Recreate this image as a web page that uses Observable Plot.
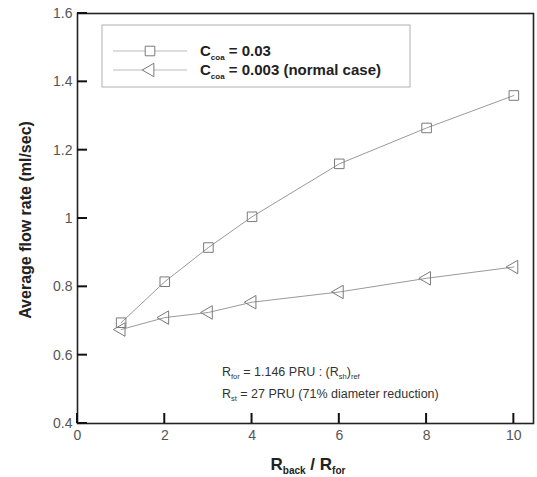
<!DOCTYPE html>
<html><head><meta charset="utf-8">
<script src="https://cdn.jsdelivr.net/npm/d3@7"></script>
<script src="https://cdn.jsdelivr.net/npm/@observablehq/plot@0.6"></script>
<style>body{margin:0;background:#fff}</style>
</head><body><div id="chart"></div>
<script>
// ---- data ----
const ratios = [1, 2, 3, 4, 6, 8, 10];                       // R_back / R_for
const flowCoa003 = [0.695, 0.815, 0.915, 1.005, 1.16, 1.265, 1.36];   // C_coa = 0.03
const flowCoa0003 = [0.675, 0.71, 0.725, 0.755, 0.785, 0.825, 0.858]; // C_coa = 0.003
const seriesValue = ["0.03", "0.003 (normal case)"];
const xTicks = [0, 2, 4, 6, 8, 10];
const yTicks = [0.4, 0.6, 0.8, 1.0, 1.2, 1.4, 1.6];
const yTitle = "Average flow rate (ml/sec)";
const note1 = [["R"], ["for", 1], [" = 1.146 PRU : (R"], ["sh", 1], [")"], ["ref", 1]];
const note2 = [["R"], ["st", 1], [" = 27 PRU (71% diameter reduction)"]];

const rowsA = ratios.map((x, i) => ({x, y: flowCoa003[i]}));
const rowsB = ratios.map((x, i) => ({x, y: flowCoa0003[i]}));

const W = 537, H = 477, mL = 77, mR = 4, mT = 13, mB = 54;
const tickLen = 10;
const fmt = d => String(+(+d).toFixed(1));
const plot = Plot.plot({
  width: W, height: H,
  marginLeft: mL, marginRight: mR, marginTop: mT, marginBottom: mB,
  style: {fontFamily: "'Liberation Sans', Arial, sans-serif", fontSize: "14px", background: "#fff", color: "#222"},
  x: {domain: [0, 10.45]},
  y: {domain: [0.4, 1.6]},
  marks: [
    Plot.axisY({ticks: yTicks, tickSize: 0, tickPadding: 5, tickFormat: fmt, label: null, fill: "#555"}),
    Plot.axisX({ticks: xTicks, tickSize: 0, tickPadding: 7, tickFormat: fmt, label: null, fill: "#555"}),
    Plot.line(rowsA, {x: "x", y: "y", stroke: "#9a9a9a", strokeWidth: 1}),
    Plot.line(rowsB, {x: "x", y: "y", stroke: "#9a9a9a", strokeWidth: 1}),
    Plot.dot(rowsA, {x: "x", y: "y", symbol: "square", r: 5.4, stroke: "#7a7a7a", fill: "none", strokeWidth: 1}),
    Plot.dot(rowsB, {x: "x", y: "y", symbol: "triangle", rotate: -90, r: 5, stroke: "#7a7a7a", fill: "none", strokeWidth: 1}),
    Plot.frame({stroke: "#222", strokeWidth: 1.6})
  ]
});
document.getElementById("chart").appendChild(plot);

const svg = d3.select(plot);
const FF = "'Liberation Sans', Arial, sans-serif";
const sx = plot.scale("x"), sy = plot.scale("y");
const fx = d3.scaleLinear(sx.domain, sx.range);
const fy = d3.scaleLinear(sy.domain, sy.range);

// inward ticks, positioned through Plot's own scale definitions
yTicks.forEach(v => {
  svg.append("path").attr("d", `M${mL},${fy(v)}h${tickLen}`)
    .attr("stroke", "#111").attr("stroke-width", 2);
});
xTicks.forEach(v => {
  svg.append("path").attr("d", `M${fx(v)},${H - mB}v${-tickLen}`)
    .attr("stroke", "#111").attr("stroke-width", 2);
});

// axis titles
svg.append("text")
  .attr("transform", "translate(31,220) rotate(-90)")
  .attr("text-anchor", "middle").attr("font-family", FF)
  .attr("font-weight", "bold").attr("font-size", 16).attr("fill", "#222")
  .text(yTitle);

const xt = svg.append("text").attr("x", 308).attr("y", 470)
  .attr("text-anchor", "middle").attr("font-family", FF)
  .attr("font-weight", "bold").attr("font-size", 17).attr("fill", "#222");
xt.append("tspan").text("R");
xt.append("tspan").text("back").attr("font-size", 10).attr("dy", 4);
xt.append("tspan").text(" / R").attr("dy", -4);
xt.append("tspan").text("for").attr("font-size", 10).attr("dy", 4);

// legend
const lg = svg.append("g").attr("text-anchor", "start");
lg.append("rect").attr("x", 102).attr("y", 25).attr("width", 308).attr("height", 62)
  .attr("fill", "#fff").attr("stroke", "#b0b0b0").attr("stroke-width", 1);
const rowY = [51, 70];
rowY.forEach((yy, i) => {
  lg.append("line").attr("x1", 113).attr("x2", 187).attr("y1", yy).attr("y2", yy)
    .attr("stroke", "#bbb").attr("stroke-width", 1);
  const sym = i === 0 ? d3.symbolSquare : d3.symbolTriangle;
  const size = Math.PI * (i === 0 ? 5.4 : 5) ** 2;
  lg.append("path").attr("d", d3.symbol(sym, size)())
    .attr("transform", `translate(150,${yy}) rotate(${i === 0 ? 0 : -90})`)
    .attr("fill", "#fff").attr("stroke", "#7a7a7a");
  const t = lg.append("text").attr("x", 200).attr("y", yy + 5).attr("text-anchor", "start")
    .attr("font-family", FF).attr("font-weight", "bold").attr("font-size", 15).attr("fill", "#222");
  t.append("tspan").text("C");
  t.append("tspan").text("coa").attr("font-size", 8).attr("dy", 4);
  t.append("tspan").text(" = " + seriesValue[i]).attr("dy", -4);
});

// notes
[note1, note2].forEach((parts, k) => {
  const t = svg.append("text").attr("x", 222).attr("y", 376 + k * 22).attr("text-anchor", "start")
    .attr("font-family", FF).attr("font-size", 12.5).attr("fill", "#333");
  let down = false;
  parts.forEach(([s, sub]) => {
    const ts = t.append("tspan").text(s);
    if (sub) { ts.attr("font-size", 7.5); if (!down) { ts.attr("dy", 3); down = true; } }
    else if (down) { ts.attr("dy", -3); down = false; }
  });
});
</script>
</body></html>
